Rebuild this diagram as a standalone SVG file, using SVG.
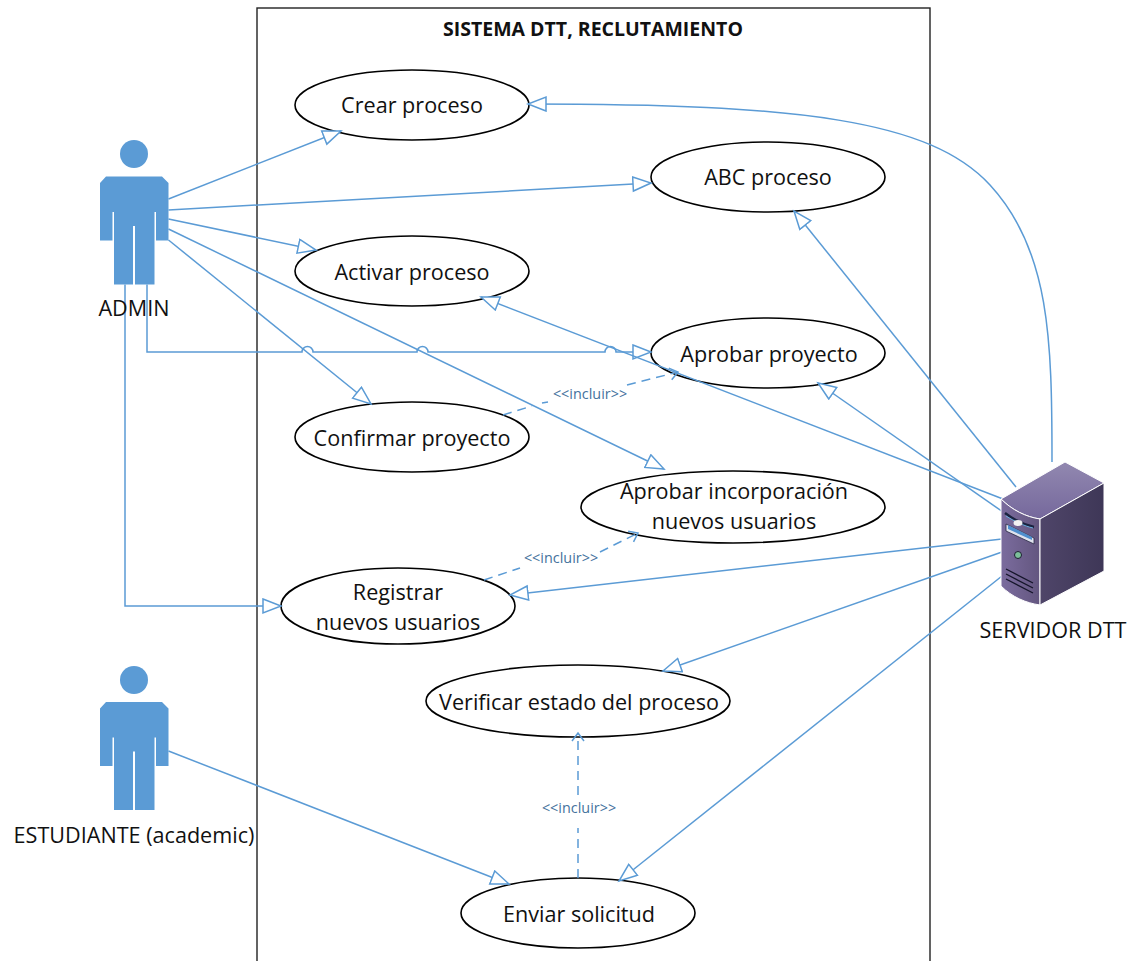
<svg xmlns="http://www.w3.org/2000/svg" width="1144" height="961" viewBox="0 0 1144 961">
<style>
text{font-family:"Open Sans","Noto Sans","Liberation Sans",sans-serif;fill:#111}
.uc{fill:#fff;stroke:#000;stroke-width:1.6}
.l{font-size:21.6px;text-anchor:middle}
.c{fill:none;stroke:#5b9bd5;stroke-width:1.5}
.a{marker-end:url(#tri)}
.d{stroke-dasharray:9 6;marker-end:url(#open)}
.i{font-size:14.4px;text-anchor:middle;fill:#44729d}
.actor{fill:#5b9bd5}
</style>
<defs>
<marker id="tri" markerUnits="userSpaceOnUse" markerWidth="24" markerHeight="18" refX="19" refY="8" orient="auto"><path d="M1,1 L19,8 L1,15 Z" fill="#fff" stroke="#5b9bd5" stroke-width="1.5"/></marker>
<marker id="open" markerUnits="userSpaceOnUse" markerWidth="16" markerHeight="16" refX="10" refY="7" orient="auto"><path d="M2,1 L10,7 L2,13" fill="none" stroke="#5b9bd5" stroke-width="1.5"/></marker>
<linearGradient id="top" x1="0" y1="0" x2="0" y2="1"><stop offset="0" stop-color="#9288b0"/><stop offset="1" stop-color="#75689c"/></linearGradient>
<linearGradient id="front" x1="0" y1="0" x2="1" y2="0"><stop offset="0" stop-color="#7b6c9e"/><stop offset="1" stop-color="#63567f"/></linearGradient>
<linearGradient id="side" x1="0" y1="0" x2="1" y2="0"><stop offset="0" stop-color="#4f4569"/><stop offset="1" stop-color="#3e3757"/></linearGradient>
<path id="person" d="M106,176.5 H162 L168.500,183 V240.500 H156 V212 H154.500 V284.500 H135 V226 H133 V284.500 H114 V212 H112.500 V240.500 H100 V183 Z"/>
</defs>
<rect width="1144" height="961" fill="#fff"/>
<rect id="system" x="257" y="8" width="673" height="970" fill="#fff" stroke="#222" stroke-width="1.4"/>
<text x="593" y="36" font-size="19.500" font-weight="700" text-anchor="middle">SISTEMA DTT, RECLUTAMIENTO</text>

<g id="use-cases">
<g id="crear"><ellipse class="uc" cx="412" cy="105" rx="117" ry="35"/><text class="l" x="412" y="113">Crear proceso</text></g>
<g id="abc"><ellipse class="uc" cx="768" cy="177" rx="117" ry="35"/><text class="l" x="768" y="185">ABC proceso</text></g>
<g id="activar"><ellipse class="uc" cx="412" cy="271" rx="117" ry="35"/><text class="l" x="412" y="280">Activar proceso</text></g>
<g id="aprobar"><ellipse class="uc" cx="768" cy="353" rx="117" ry="35"/><text class="l" x="769" y="362">Aprobar proyecto</text></g>
<g id="confirmar"><ellipse class="uc" cx="412" cy="437" rx="117" ry="35"/><text class="l" x="412" y="446">Confirmar proyecto</text></g>
<g id="incorporacion"><ellipse class="uc" cx="733" cy="507" rx="152" ry="36"/><text class="l" x="734" y="499">Aprobar incorporación</text><text class="l" x="734" y="529">nuevos usuarios</text></g>
<g id="registrar"><ellipse class="uc" cx="398" cy="606" rx="117" ry="38"/><text class="l" x="398" y="600">Registrar</text><text class="l" x="398" y="630">nuevos usuarios</text></g>
<g id="verificar"><ellipse class="uc" cx="578" cy="701" rx="152" ry="36"/><text class="l" x="579" y="710">Verificar estado del proceso</text></g>
<g id="enviar"><ellipse class="uc" cx="578" cy="913" rx="117" ry="35"/><text class="l" x="579" y="922">Enviar solicitud</text></g>
</g>

<g id="connectors">
<line class="c a" x1="168.500" y1="199" x2="341" y2="131"/>
<line class="c a" x1="168.500" y1="210" x2="651" y2="183"/>
<line class="c a" x1="168.500" y1="219" x2="316" y2="250"/>
<line class="c a" x1="168.500" y1="229" x2="664" y2="469"/>
<line class="c a" x1="168.500" y1="240" x2="371" y2="404"/>
<path class="c a" d="M147,284.500 V352 H302 A5.500,5.500 0 0 1 313,352 H417 A5.500,5.500 0 0 1 428,352 H605 A5.500,5.500 0 0 1 616,352 H651"/>
<path class="c a" d="M125,284.500 V606 H281"/>
<line class="c a" x1="168.500" y1="751" x2="509" y2="884"/>
<path class="c a" d="M1052,462 C1052,340 1050,250 990,185 C930,120 800,104 528,104"/>
<line class="c a" x1="1016" y1="487" x2="794" y2="211"/>
<line class="c a" x1="1003" y1="499" x2="481" y2="297"/>
<line class="c a" x1="1003" y1="512" x2="818" y2="383"/>
<line class="c a" x1="1002" y1="539" x2="510" y2="595"/>
<line class="c a" x1="1002" y1="552" x2="663" y2="671"/>
<line class="c a" x1="1002" y1="576" x2="619" y2="881"/>
<path class="c d" d="M503,415 L532,406 M542,403 L548,402 M627,385 L678,372"/>
<path class="c d" d="M484,580 L520,568 M600,552 L638,533"/>
<path class="c d" d="M578,878 V828 M578,795 V733"/>
<text class="i" x="590" y="399">&lt;&lt;incluir&gt;&gt;</text>
<text class="i" x="561" y="563">&lt;&lt;incluir&gt;&gt;</text>
<text class="i" x="579" y="813">&lt;&lt;incluir&gt;&gt;</text>
</g>

<g id="admin">
<circle class="actor" cx="134" cy="154" r="14"/>
<use href="#person" class="actor"/>
<text class="l" x="134" y="316">ADMIN</text>
</g>
<g id="estudiante">
<circle class="actor" cx="134" cy="680" r="14"/>
<use href="#person" class="actor" y="525.500"/>
<text class="l" x="134" y="843">ESTUDIANTE (academic)</text>
</g>
<g id="servidor">
<path d="M1001,499 L1065,462 L1104,483 L1040,519 C1026,517 1012,510 1001,499 Z" fill="url(#top)" stroke="#fff" stroke-width="1"/>
<path d="M1001,499 C1012,510 1026,517 1040,519 V605 C1026,603 1012,597 1001,586 Z" fill="url(#front)" stroke="#fff" stroke-width="1"/>
<path d="M1040,519 L1104,483 V571 L1040,605 Z" fill="url(#side)" stroke="#fff" stroke-width="1"/>
<path d="M1005,513 C1014,520 1024,525 1034,527" fill="none" stroke="#1a2340" stroke-width="2.500"/>
<path d="M1006,516 C1014,521 1024,526 1033,528" fill="none" stroke="#6ab0e0" stroke-width="1"/>
<ellipse cx="1018" cy="523" rx="4.500" ry="3" fill="#f2f2f2"/>
<path d="M1006,524 L1034,538 V544 L1006,531 Z" fill="#dfe3ee" stroke="#2a2a44" stroke-width="0.800"/>
<path d="M1008,525 L1032,537 V540 L1008,529 Z" fill="#4f90cf"/>
<circle cx="1018" cy="555" r="3.500" fill="#7cc09a" stroke="#1c1c30" stroke-width="1"/>
<path d="M1006,569 L1033,583 M1006,574 L1033,588 M1006,579 L1033,593" fill="none" stroke="#15152a" stroke-width="1.300"/>
<text class="l" x="1053" y="638">SERVIDOR DTT</text>
</g>
</svg>
